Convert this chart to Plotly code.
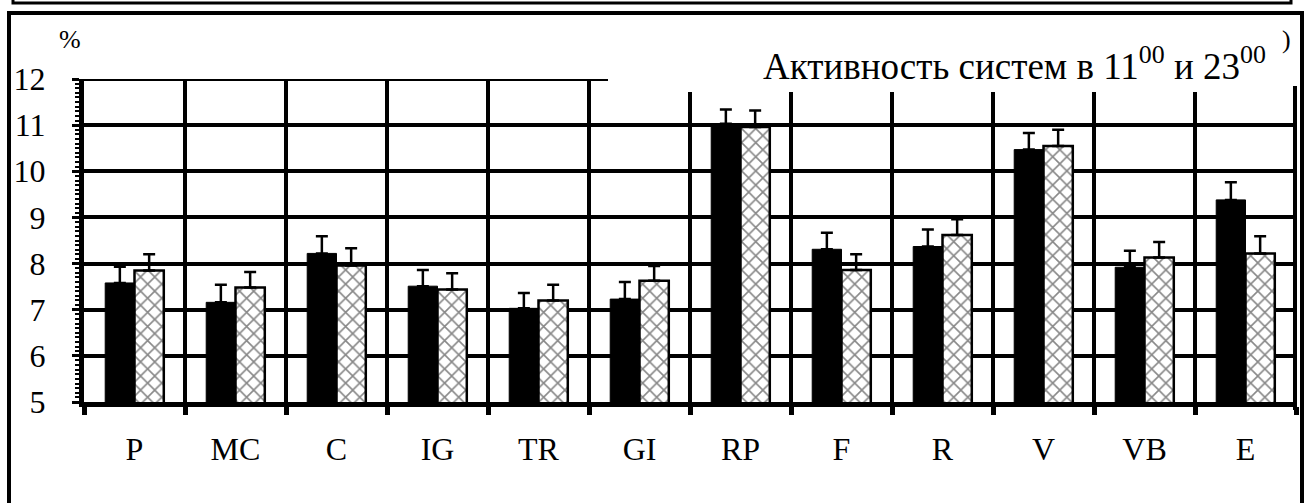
import plotly.graph_objects as go

categories = ["P", "MC", "C", "IG", "TR", "GI", "RP", "F", "R", "V", "VB", "E"]
values_11 = [7.58, 7.16, 8.22, 7.51, 7.03, 7.23, 11.03, 8.31, 8.37, 10.47, 7.92, 9.38]
errors_11 = [0.35, 0.38, 0.37, 0.35, 0.33, 0.37, 0.31, 0.36, 0.37, 0.36, 0.36, 0.38]
values_23 = [7.85, 7.48, 7.96, 7.44, 7.20, 7.63, 10.96, 7.86, 8.62, 10.55, 8.13, 8.22]
errors_23 = [0.35, 0.34, 0.37, 0.35, 0.34, 0.32, 0.36, 0.34, 0.34, 0.35, 0.34, 0.37]
y_ticks = [5, 6, 7, 8, 9, 10, 11, 12]
y_ticktext = [str(v) for v in y_ticks]

W, H = 1309, 503
L, R, T, B = 84, 1296, 79, 402  # plot area in pixels
FONT = "Liberation Serif"


def px(x):
    return (x - L) / (R - L)


def py(y):
    return (B - y) / (B - T)


fig = go.Figure()
fig.add_trace(go.Bar(
    x=categories, y=values_11, name="11:00",
    marker=dict(color="black", line=dict(color="black", width=1)),
    error_y=dict(type="data", symmetric=False, array=errors_11,
                 arrayminus=[0] * len(errors_11), color="black",
                 thickness=2.5, width=6),
))
fig.add_trace(go.Bar(
    x=categories, y=values_23, name="23:00",
    marker=dict(color="white", line=dict(color="black", width=2.5),
                pattern=dict(shape="x", fgcolor="#111", bgcolor="white",
                             size=10, solidity=0.3, fillmode="overlay")),
    error_y=dict(type="data", symmetric=False, array=errors_23,
                 arrayminus=[0] * len(errors_23), color="black",
                 thickness=2.5, width=6),
))

shapes = [
    # top gridline (12) on the left part only
    dict(type="line", xref="paper", yref="y", layer="below",
         x0=0, x1=px(608), y0=y_ticks[-1], y1=y_ticks[-1],
         line=dict(color="black", width=4)),
    # white box hiding grid behind title
    dict(type="rect", xref="paper", yref="paper", layer="above",
         x0=px(609), x1=px(1300), y0=py(92), y1=py(20),
         fillcolor="white", line=dict(width=0)),
    # outer frame
    dict(type="rect", xref="paper", yref="paper", layer="above",
         x0=px(9), x1=px(1302), y0=py(520), y1=py(13),
         line=dict(color="black", width=4)),
    # upper box bottom edge
    dict(type="rect", xref="paper", yref="paper", layer="above",
         x0=px(13), x1=px(1291), y0=py(3), y1=py(-20),
         line=dict(color="black", width=3)),
    # right plot edge
    dict(type="line", xref="paper", yref="paper", layer="above",
         x0=px(1295), x1=px(1295), y0=py(410), y1=py(86),
         line=dict(color="black", width=4)),
]

annotations = [
    dict(xref="paper", yref="paper", x=px(1268), y=py(63), xanchor="right",
         yanchor="middle", showarrow=False,
         text="Активность систем в 11<sup>00</sup> и 23<sup>00</sup>",
         font=dict(family=FONT, size=37, color="black")),
    dict(xref="paper", yref="paper", x=px(1286), y=py(40), xanchor="center",
         yanchor="middle", showarrow=False, text=")",
         font=dict(family=FONT, size=26, color="black")),
    dict(xref="paper", yref="paper", x=px(70), y=py(40), xanchor="center",
         yanchor="middle", showarrow=False, text="%",
         font=dict(family=FONT, size=26, color="black")),
]

fig.update_layout(
    width=W, height=H,
    margin=dict(l=L, r=W - R, t=T, b=H - B, pad=0),
    paper_bgcolor="white", plot_bgcolor="white",
    barmode="group", bargap=0.42, bargroupgap=0,
    showlegend=False,
    font=dict(family=FONT, size=32, color="black"),
    shapes=shapes, annotations=annotations,
)
fig.update_xaxes(
    type="category", range=[-0.5, len(categories) - 0.5],
    tickson="boundaries", showgrid=True, gridcolor="black", gridwidth=4,
    showline=True, linecolor="black", linewidth=5,
    ticks="outside", ticklen=8, tickwidth=5, tickcolor="black",
    ticklabelstandoff=15, tickfont=dict(family=FONT, size=32, color="black"),
    zeroline=False,
)
fig.update_yaxes(
    range=[5, 12], tickvals=y_ticks, ticktext=y_ticktext,
    showgrid=True, gridcolor="black", gridwidth=4,
    showline=True, linecolor="black", linewidth=5,
    ticks="outside", ticklen=7, tickwidth=3, tickcolor="black",
    minor=dict(dtick=0.1, ticks="outside", ticklen=4, tickwidth=2,
               tickcolor="black", showgrid=False),
    ticklabelstandoff=20, tickfont=dict(family=FONT, size=32, color="black"),
    zeroline=False,
)

fig.write_html("out.html", config={"displayModeBar": False},
               post_script="document.body.style.margin='0';")
